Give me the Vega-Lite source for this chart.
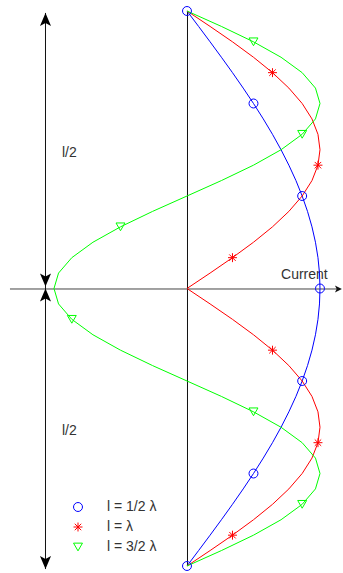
{
  "$schema": "https://vega.github.io/schema/vega-lite/v6.json",
  "width": 343,
  "height": 573,
  "autosize": {"type": "fit", "contains": "padding"},
  "padding": 0,
  "background": "white",
  "config": {"view": {"stroke": null}, "font": "Liberation Sans"},
  "datasets": {
    "curves": [
      {"series": "l = 1/2 λ", "z": -1, "current": 0, "marker": 1},
      {"series": "l = 1/2 λ", "z": -0.9444, "current": 0.0872},
      {"series": "l = 1/2 λ", "z": -0.8889, "current": 0.1736},
      {"series": "l = 1/2 λ", "z": -0.8333, "current": 0.2588},
      {"series": "l = 1/2 λ", "z": -0.7778, "current": 0.342},
      {"series": "l = 1/2 λ", "z": -0.7222, "current": 0.4226},
      {"series": "l = 1/2 λ", "z": -0.6667, "current": 0.5, "marker": 1},
      {"series": "l = 1/2 λ", "z": -0.6111, "current": 0.5736},
      {"series": "l = 1/2 λ", "z": -0.5556, "current": 0.6428},
      {"series": "l = 1/2 λ", "z": -0.5, "current": 0.7071},
      {"series": "l = 1/2 λ", "z": -0.4444, "current": 0.766},
      {"series": "l = 1/2 λ", "z": -0.3889, "current": 0.8192},
      {"series": "l = 1/2 λ", "z": -0.3333, "current": 0.866, "marker": 1},
      {"series": "l = 1/2 λ", "z": -0.2778, "current": 0.9063},
      {"series": "l = 1/2 λ", "z": -0.2222, "current": 0.9397},
      {"series": "l = 1/2 λ", "z": -0.1667, "current": 0.9659},
      {"series": "l = 1/2 λ", "z": -0.1111, "current": 0.9848},
      {"series": "l = 1/2 λ", "z": -0.0556, "current": 0.9962},
      {"series": "l = 1/2 λ", "z": 0, "current": 1, "marker": 1},
      {"series": "l = 1/2 λ", "z": 0.0556, "current": 0.9962},
      {"series": "l = 1/2 λ", "z": 0.1111, "current": 0.9848},
      {"series": "l = 1/2 λ", "z": 0.1667, "current": 0.9659},
      {"series": "l = 1/2 λ", "z": 0.2222, "current": 0.9397},
      {"series": "l = 1/2 λ", "z": 0.2778, "current": 0.9063},
      {"series": "l = 1/2 λ", "z": 0.3333, "current": 0.866, "marker": 1},
      {"series": "l = 1/2 λ", "z": 0.3889, "current": 0.8192},
      {"series": "l = 1/2 λ", "z": 0.4444, "current": 0.766},
      {"series": "l = 1/2 λ", "z": 0.5, "current": 0.7071},
      {"series": "l = 1/2 λ", "z": 0.5556, "current": 0.6428},
      {"series": "l = 1/2 λ", "z": 0.6111, "current": 0.5736},
      {"series": "l = 1/2 λ", "z": 0.6667, "current": 0.5, "marker": 1},
      {"series": "l = 1/2 λ", "z": 0.7222, "current": 0.4226},
      {"series": "l = 1/2 λ", "z": 0.7778, "current": 0.342},
      {"series": "l = 1/2 λ", "z": 0.8333, "current": 0.2588},
      {"series": "l = 1/2 λ", "z": 0.8889, "current": 0.1736},
      {"series": "l = 1/2 λ", "z": 0.9444, "current": 0.0872},
      {"series": "l = 1/2 λ", "z": 1, "current": 0, "marker": 1},

      {"series": "l = λ", "z": -1, "current": 0},
      {"series": "l = λ", "z": -0.9444, "current": 0.1736},
      {"series": "l = λ", "z": -0.8889, "current": 0.342, "marker": 1},
      {"series": "l = λ", "z": -0.8333, "current": 0.5},
      {"series": "l = λ", "z": -0.7778, "current": 0.6428},
      {"series": "l = λ", "z": -0.7222, "current": 0.766},
      {"series": "l = λ", "z": -0.6667, "current": 0.866},
      {"series": "l = λ", "z": -0.6111, "current": 0.9397},
      {"series": "l = λ", "z": -0.5556, "current": 0.9848, "marker": 1},
      {"series": "l = λ", "z": -0.5, "current": 1},
      {"series": "l = λ", "z": -0.4444, "current": 0.9848},
      {"series": "l = λ", "z": -0.3889, "current": 0.9397},
      {"series": "l = λ", "z": -0.3333, "current": 0.866},
      {"series": "l = λ", "z": -0.2778, "current": 0.766},
      {"series": "l = λ", "z": -0.2222, "current": 0.6428, "marker": 1},
      {"series": "l = λ", "z": -0.1667, "current": 0.5},
      {"series": "l = λ", "z": -0.1111, "current": 0.342},
      {"series": "l = λ", "z": -0.0556, "current": 0.1736},
      {"series": "l = λ", "z": 0, "current": 0},
      {"series": "l = λ", "z": 0.0556, "current": 0.1736},
      {"series": "l = λ", "z": 0.1111, "current": 0.342, "marker": 1},
      {"series": "l = λ", "z": 0.1667, "current": 0.5},
      {"series": "l = λ", "z": 0.2222, "current": 0.6428},
      {"series": "l = λ", "z": 0.2778, "current": 0.766},
      {"series": "l = λ", "z": 0.3333, "current": 0.866},
      {"series": "l = λ", "z": 0.3889, "current": 0.9397},
      {"series": "l = λ", "z": 0.4444, "current": 0.9848, "marker": 1},
      {"series": "l = λ", "z": 0.5, "current": 1},
      {"series": "l = λ", "z": 0.5556, "current": 0.9848},
      {"series": "l = λ", "z": 0.6111, "current": 0.9397},
      {"series": "l = λ", "z": 0.6667, "current": 0.866},
      {"series": "l = λ", "z": 0.7222, "current": 0.766},
      {"series": "l = λ", "z": 0.7778, "current": 0.6428, "marker": 1},
      {"series": "l = λ", "z": 0.8333, "current": 0.5},
      {"series": "l = λ", "z": 0.8889, "current": 0.342},
      {"series": "l = λ", "z": 0.9444, "current": 0.1736},
      {"series": "l = λ", "z": 1, "current": 0},

      {"series": "l = 3/2 λ", "z": -1, "current": 0},
      {"series": "l = 3/2 λ", "z": -0.9444, "current": 0.2588},
      {"series": "l = 3/2 λ", "z": -0.8889, "current": 0.5},
      {"series": "l = 3/2 λ", "z": -0.8333, "current": 0.7071},
      {"series": "l = 3/2 λ", "z": -0.7778, "current": 0.866, "marker": 1},
      {"series": "l = 3/2 λ", "z": -0.7222, "current": 0.9659},
      {"series": "l = 3/2 λ", "z": -0.6667, "current": 1},
      {"series": "l = 3/2 λ", "z": -0.6111, "current": 0.9659},
      {"series": "l = 3/2 λ", "z": -0.5556, "current": 0.866},
      {"series": "l = 3/2 λ", "z": -0.5, "current": 0.7071},
      {"series": "l = 3/2 λ", "z": -0.4444, "current": 0.5, "marker": 1},
      {"series": "l = 3/2 λ", "z": -0.3889, "current": 0.2588},
      {"series": "l = 3/2 λ", "z": -0.3333, "current": 0},
      {"series": "l = 3/2 λ", "z": -0.2778, "current": -0.2588},
      {"series": "l = 3/2 λ", "z": -0.2222, "current": -0.5},
      {"series": "l = 3/2 λ", "z": -0.1667, "current": -0.7071},
      {"series": "l = 3/2 λ", "z": -0.1111, "current": -0.866, "marker": 1},
      {"series": "l = 3/2 λ", "z": -0.0556, "current": -0.9659},
      {"series": "l = 3/2 λ", "z": 0, "current": -1},
      {"series": "l = 3/2 λ", "z": 0.0556, "current": -0.9659},
      {"series": "l = 3/2 λ", "z": 0.1111, "current": -0.866},
      {"series": "l = 3/2 λ", "z": 0.1667, "current": -0.7071},
      {"series": "l = 3/2 λ", "z": 0.2222, "current": -0.5, "marker": 1},
      {"series": "l = 3/2 λ", "z": 0.2778, "current": -0.2588},
      {"series": "l = 3/2 λ", "z": 0.3333, "current": 0},
      {"series": "l = 3/2 λ", "z": 0.3889, "current": 0.2588},
      {"series": "l = 3/2 λ", "z": 0.4444, "current": 0.5},
      {"series": "l = 3/2 λ", "z": 0.5, "current": 0.7071},
      {"series": "l = 3/2 λ", "z": 0.5556, "current": 0.866, "marker": 1},
      {"series": "l = 3/2 λ", "z": 0.6111, "current": 0.9659},
      {"series": "l = 3/2 λ", "z": 0.6667, "current": 1},
      {"series": "l = 3/2 λ", "z": 0.7222, "current": 0.9659},
      {"series": "l = 3/2 λ", "z": 0.7778, "current": 0.866},
      {"series": "l = 3/2 λ", "z": 0.8333, "current": 0.7071},
      {"series": "l = 3/2 λ", "z": 0.8889, "current": 0.5, "marker": 1},
      {"series": "l = 3/2 λ", "z": 0.9444, "current": 0.2588},
      {"series": "l = 3/2 λ", "z": 1, "current": 0}
    ],
    "labels": [
      {"label": "l/2", "current": -0.94, "z": 0.475},
      {"label": "l/2", "current": -0.94, "z": -0.529},
      {"label": "Current", "current": 0.707, "z": 0.036}
    ]
  },
  "encoding": {
    "x": {"field": "current", "type": "quantitative", "axis": null,
          "scale": {"domain": [-1.406, 1.173], "nice": false, "zero": false}},
    "y": {"field": "z", "type": "quantitative", "axis": null,
          "scale": {"domain": [-1.0216, 1.0396], "nice": false, "zero": false}}
  },
  "layer": [
    {
      "data": {"values": [{"current": 0.0038, "z": -1, "z2": 1}]},
      "mark": {"type": "rule", "color": "#111111", "strokeWidth": 1},
      "encoding": {"y2": {"field": "z2"}}
    },
    {
      "data": {"values": [{"current": -1.331, "current2": 1.14, "z": -0.0018}]},
      "mark": {"type": "rule", "color": "#444444", "strokeWidth": 1},
      "encoding": {"x2": {"field": "current2"}}
    },
    {
      "data": {"values": [{"current": 1.165, "z": -0.0018}]},
      "mark": {"type": "point", "filled": true, "color": "#111111", "opacity": 1, "size": 49,
               "shape": "M0,0L-2,-1L-1.5,0L-2,1Z"},
      "encoding": {}
    },
    {
      "data": {"values": [{"current": -1.0639, "z": 0.993, "z2": -1.011}]},
      "mark": {"type": "rule", "color": "#111111", "strokeWidth": 1},
      "encoding": {"y2": {"field": "z2"}}
    },
    {
      "data": {"values": [{"current": -1.0639, "z": 0.993}, {"current": -1.0639, "z": 0}]},
      "mark": {"type": "point", "filled": true, "color": "#000000", "opacity": 1, "size": 169,
               "shape": "M0,0L0.85,2L0,1.55L-0.85,2Z"},
      "encoding": {}
    },
    {
      "data": {"values": [{"current": -1.0639, "z": -1.011}, {"current": -1.0639, "z": 0.007}]},
      "mark": {"type": "point", "filled": true, "color": "#000000", "opacity": 1, "size": 169,
               "shape": "M0,0L0.85,-2L0,-1.55L-0.85,-2Z"},
      "encoding": {}
    },
    {
      "data": {"name": "labels"},
      "mark": {"type": "text", "align": "left", "baseline": "alphabetic", "fontSize": 14,
               "color": "#333333", "font": "Liberation Sans"},
      "encoding": {"text": {"field": "label"}}
    },
    {
      "data": {"name": "curves"},
      "transform": [{"filter": {"field": "series", "equal": "l = 1/2 λ"}}],
      "mark": {"type": "line", "strokeWidth": 1, "color": "#0000ff"},
      "encoding": {"order": {"field": "z", "type": "quantitative"}}
    },
    {
      "data": {"name": "curves"},
      "transform": [{"filter": {"field": "series", "equal": "l = λ"}}],
      "mark": {"type": "line", "strokeWidth": 1, "color": "#ff0000"},
      "encoding": {"order": {"field": "z", "type": "quantitative"}}
    },
    {
      "data": {"name": "curves"},
      "transform": [{"filter": {"field": "series", "equal": "l = 3/2 λ"}}],
      "mark": {"type": "line", "strokeWidth": 1, "color": "#00ff00"},
      "encoding": {"order": {"field": "z", "type": "quantitative"}}
    },
    {
      "data": {"name": "curves"},
      "transform": [{"filter": "datum.marker == 1"}],
      "mark": {"type": "point", "filled": false, "size": 80, "strokeWidth": 1, "opacity": 1},
      "encoding": {
        "color": {"field": "series", "type": "nominal",
                  "scale": {"domain": ["l = 1/2 λ", "l = λ", "l = 3/2 λ"],
                            "range": ["#0000ff", "#ff0000", "#00ff00"]},
                  "legend": {"orient": "none", "legendX": 71, "legendY": 500, "title": null,
                             "padding": 0, "labelFontSize": 14, "labelColor": "#333333",
                             "labelFont": "Liberation Sans", "labelOffset": 22, "rowPadding": 6,
                             "symbolSize": 80, "symbolStrokeWidth": 1}},
        "shape": {"field": "series", "type": "nominal",
                  "scale": {"domain": ["l = 1/2 λ", "l = λ", "l = 3/2 λ"],
                            "range": ["circle", "M-1,0L1,0M0,-1L0,1M-0.72,-0.72L0.72,0.72M-0.72,0.72L0.72,-0.72", "triangle-down"]},
                  "legend": {"orient": "none", "legendX": 71, "legendY": 500, "title": null,
                             "padding": 0, "labelFontSize": 14, "labelColor": "#333333",
                             "labelFont": "Liberation Sans", "labelOffset": 22, "rowPadding": 6,
                             "symbolSize": 80, "symbolStrokeWidth": 1}}
      }
    }
  ]
}
